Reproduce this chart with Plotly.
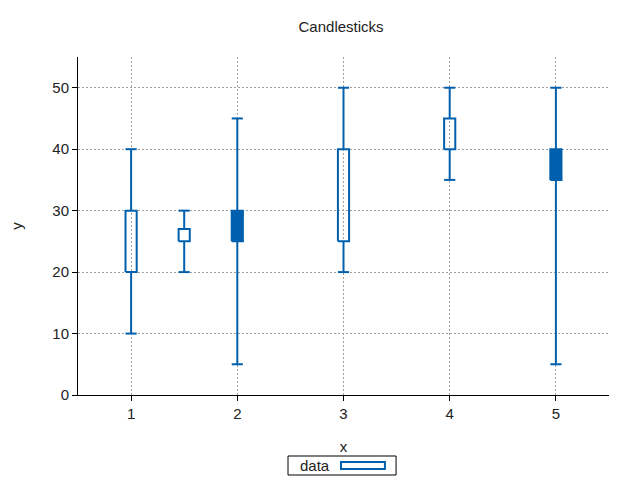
import plotly.graph_objects as go

# candle data (x, open, low, high, close)
xs = [1, 1.5, 2, 3, 4, 5]
opens = [20, 25, 30, 25, 40, 40]
lows = [10, 20, 5, 20, 35, 5]
highs = [40, 30, 45, 50, 50, 50]
closes = [30, 27, 25, 40, 45, 35]

BLUE = "#0060ad"
W = 0.105  # box / cap width in x units

fig = go.Figure()

for i, x in enumerate(xs):
    lo_box = min(opens[i], closes[i])
    hi_box = max(opens[i], closes[i])
    x0, x1 = x - W / 2, x + W / 2

    # whiskers and caps
    fig.add_trace(go.Scatter(
        x=[x, x, None, x, x, None, x0, x1, None, x0, x1],
        y=[lows[i], lo_box, None, hi_box, highs[i], None,
           lows[i], lows[i], None, highs[i], highs[i]],
        mode="lines", line=dict(color=BLUE, width=2),
        showlegend=False, hoverinfo="skip",
    ))

    # body: hollow when rising, filled when falling
    filled = closes[i] < opens[i]
    fig.add_trace(go.Scatter(
        x=[x0, x1, x1, x0, x0],
        y=[lo_box, lo_box, hi_box, hi_box, lo_box],
        mode="lines", fill="toself",
        fillcolor=BLUE if filled else "rgba(0,0,0,0)",
        line=dict(color=BLUE, width=2),
        showlegend=False,
    ))

axis_style = dict(
    showline=True, linecolor="black", linewidth=1,
    ticks="outside", ticklen=5, tickcolor="black",
    showgrid=True, gridcolor="#a0a0a0", griddash="2px,2px", gridwidth=1,
    zeroline=False, mirror=False, automargin=False,
    tickfont=dict(size=15, color="#222"),
)

fig.update_xaxes(range=[0.5, 5.5], tickvals=[1, 2, 3, 4, 5],
                 title=dict(text="x", font=dict(size=15), standoff=20), **axis_style)
fig.update_yaxes(range=[0, 55], tickvals=[0, 10, 20, 30, 40, 50],
                 title=dict(text="y", font=dict(size=15), standoff=38), **axis_style)

# gnuplot-style key below the plot: label on the left, hollow box sample on the right
fig.add_shape(type="rect", xref="paper", yref="paper",
              x0=0.3955, x1=0.599, y0=-0.2367, y1=-0.1805,
              line=dict(color="black", width=1), fillcolor="white")
fig.add_shape(type="rect", xref="paper", yref="paper",
              x0=0.4953, x1=0.578, y0=-0.219, y1=-0.198,
              line=dict(color=BLUE, width=2))
fig.add_annotation(text="data", xref="paper", yref="paper",
                   x=0.447, y=-0.208, xanchor="center", yanchor="middle",
                   showarrow=False, font=dict(size=15, color="#222"))

fig.update_layout(
    width=632, height=472,
    title=dict(text="Candlesticks", x=0.527, xanchor="center",
               y=0.96, yanchor="middle",
               font=dict(size=15, color="#222")),
    font=dict(family="Liberation Sans, Arial, sans-serif", color="#222"),
    plot_bgcolor="white", paper_bgcolor="white",
    margin=dict(l=70, r=31, t=49, b=85),
    showlegend=False,
)

fig.write_html("out.html")
